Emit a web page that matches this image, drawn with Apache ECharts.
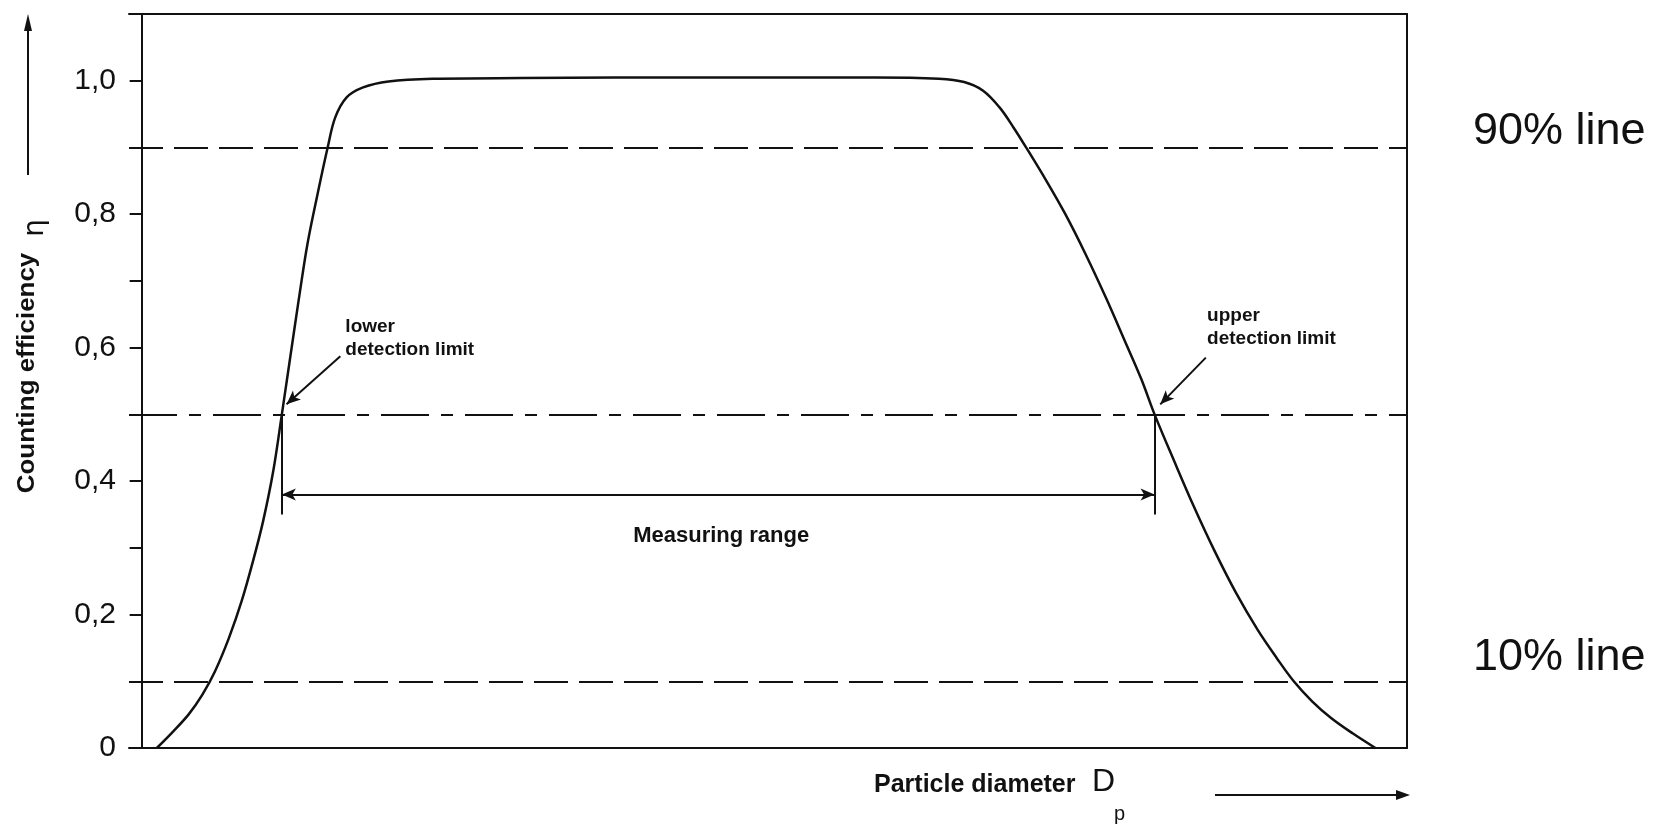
<!DOCTYPE html>
<html><head><meta charset="utf-8">
<script src="https://cdn.jsdelivr.net/npm/echarts@6/dist/echarts.min.js"></script>
<style>html,body{margin:0;padding:0;background:#fff}#c{width:1671px;height:826px}</style>
</head><body><div id="c"></div>
<script>
// Particle diameter (relative units, unlabeled axis) and counting efficiency
const diameterX = [1.2, 2.5, 3.7, 4.8, 5.8, 6.9, 7.9, 8.8, 9.6, 10.4, 11.08, 11.7, 12.4, 13.1, 13.9, 14.7, 15.3, 16.2, 17.5, 19.5, 23, 30, 45, 58, 63, 65, 66.5, 67.8, 68.9, 69.9, 71.5, 73.0, 74.6, 76.2, 77.7, 79.0, 80.05, 81.6, 83.2, 84.8, 86.5, 88.2, 89.7, 91.05, 92.5, 94.0, 95.7, 97.5];
const efficiency = [0, 0.025, 0.05, 0.08, 0.115, 0.165, 0.22, 0.28, 0.34, 0.415, 0.5, 0.58, 0.67, 0.755, 0.83, 0.9, 0.945, 0.975, 0.99, 0.999, 1.003, 1.004, 1.005, 1.005, 1.003, 0.998, 0.985, 0.96, 0.93, 0.9, 0.85, 0.80, 0.74, 0.675, 0.61, 0.553, 0.5, 0.43, 0.36, 0.295, 0.232, 0.177, 0.135, 0.1, 0.07, 0.045, 0.022, 0];
const yTickValues = [0, 0.2, 0.4, 0.6, 0.8, 1.0];
const yTickLabels = ['0', '0,2', '0,4', '0,6', '0,8', '1,0'];
const dashedLevels = [0.9, 0.1];
const dashDotLevel = 0.5;
const sideLabels = ['90% line', '10% line'];
const detectionLimitsX = [11.08, 80.05];
const measuringRangeY = 0.38;
const limitTickBottomY = 0.35;
const annotationTexts = ['lower\ndetection limit', 'upper\ndetection limit', 'Measuring range'];
const annotationX = [16.1, 84.2, 45.8];
const annotationY = [0.614, 0.631, 0.318];
const arrowStartX = [15.7, 84.1];
const arrowStartY = [0.587, 0.585];
const arrowEndX = [11.45, 80.5];
const arrowEndY = [0.515, 0.515];

const INK = '#111';
const chart = echarts.init(document.getElementById('c'), null, {renderer: 'canvas'});

const curve = diameterX.map((x, i) => [x, efficiency[i]]);
const fmtTick = v => {
  const idx = yTickValues.findIndex(t => Math.abs(t - v) < 1e-6);
  return idx >= 0 ? yTickLabels[idx] : '';
};

const markLineData = [];
dashedLevels.forEach(v => markLineData.push({yAxis: v, lineStyle: {type: [34, 11], width: 2, color: INK}}));
markLineData.push({yAxis: dashDotLevel, lineStyle: {type: [48, 12, 12, 12], width: 2, color: INK}});

const rangeLines = [];
detectionLimitsX.forEach(x => rangeLines.push([{coord: [x, dashDotLevel], symbol: 'none'}, {coord: [x, limitTickBottomY], symbol: 'none'}]));
rangeLines.push([{coord: [detectionLimitsX[0], measuringRangeY], symbol: 'arrow'}, {coord: [detectionLimitsX[1], measuringRangeY], symbol: 'arrow'}]);
arrowStartX.forEach((x, i) => rangeLines.push([{coord: [x, arrowStartY[i]], symbol: 'none'}, {coord: [arrowEndX[i], arrowEndY[i]], symbol: 'arrow'}]));

const labelBase = {show: true, position: 'inside', verticalAlign: 'middle', fontWeight: 'bold', color: INK,
  fontFamily: 'Liberation Sans', textBorderWidth: 0, textBorderColor: 'transparent', textShadowBlur: 0};
const annData = annotationTexts.map((t, i) => ({
  value: [annotationX[i], annotationY[i]],
  label: Object.assign({}, labelBase, i < 2
    ? {formatter: t, align: 'left', fontSize: 19, lineHeight: 23}
    : {formatter: t, align: 'center', fontSize: 22})
}));

chart.setOption({
  animation: false,
  backgroundColor: '#fff',
  grid: {left: 129, right: 264, top: 14, bottom: 78},
  xAxis: [
    {type: 'value', min: -1, max: 100, position: 'bottom', axisLine: {show: true, onZero: false, lineStyle: {color: INK, width: 2}}, axisTick: {show: false}, axisLabel: {show: false}, splitLine: {show: false}},
    {type: 'value', min: -1, max: 100, position: 'top', axisLine: {show: true, onZero: false, lineStyle: {color: INK, width: 2}}, axisTick: {show: false}, axisLabel: {show: false}, splitLine: {show: false}}
  ],
  yAxis: [
    {type: 'value', min: 0, max: 1.1, interval: 0.1, position: 'left',
      axisLine: {show: true, onZero: true, lineStyle: {color: INK, width: 2}},
      axisTick: {show: true, length: 12, inside: false, lineStyle: {color: INK, width: 2}},
      axisLabel: {formatter: fmtTick, fontSize: 30, color: INK, margin: 13, fontFamily: 'Liberation Sans'},
      splitLine: {show: false}},
    {type: 'value', min: 0, max: 1.1, position: 'right',
      axisLine: {show: true, onZero: false, lineStyle: {color: INK, width: 2}},
      axisTick: {show: false}, axisLabel: {show: false}, splitLine: {show: false}}
  ],
  series: [
    {type: 'line', name: 'Counting efficiency', data: curve, smooth: 0.35, showSymbol: false, symbol: 'none',
      lineStyle: {color: INK, width: 2.5}, z: 5,
      markLine: {silent: true, symbol: 'none', label: {show: false}, data: markLineData, animation: false}},
    {type: 'line', name: 'ranges', data: [], markLine: {silent: true, symbolSize: [9, 14], label: {show: false},
      lineStyle: {color: INK, width: 2, type: 'solid'}, data: rangeLines, animation: false}},
    {type: 'scatter', name: 'annotations', symbolSize: 0, data: annData, silent: true, z: 10,
      itemStyle: {color: INK, opacity: 1}}
  ]
});

const py = v => chart.convertToPixel({yAxisIndex: 0}, v);
const gx = chart.convertToPixel({xAxisIndex: 0}, 100);
chart.setOption({
  graphic: [
    {type: 'line', shape: {x1: 28, y1: 175, x2: 28, y2: 28}, style: {stroke: INK, lineWidth: 2}},
    {type: 'polygon', shape: {points: [[28, 14], [24, 31], [32, 31]]}, style: {fill: INK}},
    {type: 'text', x: 36, y: 228, rotation: Math.PI / 2, style: {text: 'η', font: '28px "DejaVu Sans"', fill: INK, align: 'center', verticalAlign: 'middle'}},
    {type: 'text', x: 27, y: 373, rotation: Math.PI / 2, scaleX: 1.08, style: {text: 'Counting efficiency', font: 'bold 24px "Liberation Sans"', fill: INK, align: 'center', verticalAlign: 'middle'}},
    {type: 'text', x: 874, y: 785, style: {text: 'Particle diameter', font: 'bold 25px "Liberation Sans"', fill: INK, align: 'left', verticalAlign: 'middle'}},
    {type: 'text', x: 1092, y: 782, style: {text: 'D', font: '32px "Liberation Sans"', fill: INK, align: 'left', verticalAlign: 'middle'}},
    {type: 'text', x: 1114, y: 814, style: {text: 'p', font: '20px "Liberation Sans"', fill: INK, align: 'left', verticalAlign: 'middle'}},
    {type: 'line', shape: {x1: 1215, y1: 795, x2: 1398, y2: 795}, style: {stroke: INK, lineWidth: 2}},
    {type: 'polygon', shape: {points: [[1410, 795], [1396, 790], [1396, 800]]}, style: {fill: INK}},
    {type: 'text', x: gx + 66, y: py(dashedLevels[0]) - 16, style: {text: sideLabels[0], font: '45px "Liberation Sans"', fill: INK, align: 'left', verticalAlign: 'middle'}},
    {type: 'text', x: gx + 66, y: py(dashedLevels[1]) - 24, style: {text: sideLabels[1], font: '45px "Liberation Sans"', fill: INK, align: 'left', verticalAlign: 'middle'}}
  ]
});
</script></body></html>
